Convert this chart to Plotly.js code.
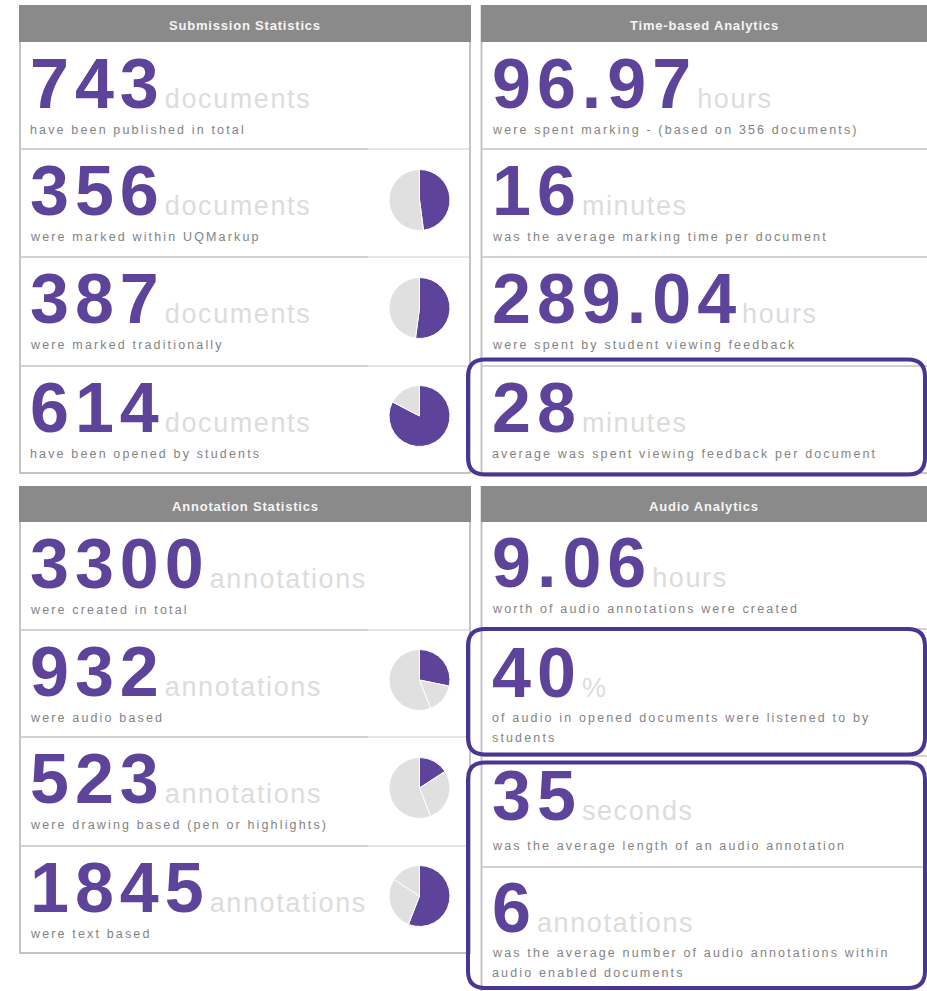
<!DOCTYPE html>
<html><head><meta charset="utf-8">
<script src="https://cdn.plot.ly/plotly-3.0.1.min.js"></script>
<style>html,body{margin:0;padding:0;background:#fff;overflow:hidden}</style>
</head><body><div id="chart" style="width:927px;height:991px"></div>
<script>
// ---------- DATA ----------
const panelTitles = ["Submission Statistics", "Time-based Analytics", "Annotation Statistics", "Audio Analytics"];

const submissionValues = ["743", "356", "387", "614"];
const submissionUnits = ["documents", "documents", "documents", "documents"];
const submissionCaptions = [["have been published in total"], ["were marked within UQMarkup"], ["were marked traditionally"], ["have been opened by students"]];

const timeValues = ["96.97", "16", "289.04", "28"];
const timeUnits = ["hours", "minutes", "hours", "minutes"];
const timeCaptions = [["were spent marking - (based on 356 documents)"], ["was the average marking time per document"], ["were spent by student viewing feedback"], ["average was spent viewing feedback per document"]];

const annotationValues = ["3300", "932", "523", "1845"];
const annotationUnits = ["annotations", "annotations", "annotations", "annotations"];
const annotationCaptions = [["were created in total"], ["were audio based"], ["were drawing based (pen or highlights)"], ["were text based"]];

const audioValues = ["9.06", "40", "35", "6"];
const audioUnits = ["hours", "%", "seconds", "annotations"];
const audioCaptions = [["worth of audio annotations were created"], ["of audio in opened documents were listened to by", "students"], ["was the average length of an audio annotation"], ["was the average number of audio annotations within", "audio enabled documents"]];

// pie slices (first slice = highlighted)
const pieMarkedUQ = [356, 387];
const pieMarkedTrad = [387, 356];
const pieOpened = [614, 129];
const pieAudio = [932, 523, 1845];
const pieDrawing = [523, 932, 1845];
const pieText = [1845, 932, 523];

// ---------- LAYOUT / STYLE ----------
const W = 927, H = 991;
const FONT = "Liberation Sans, Arial, sans-serif";
const PURPLE = "#5d4399";
const BOX = "#4a3593";
const PIEGRAY = "#e0e0e0";
const UNITC = "#dcdcdc";
const CAPC = "#838383";
const HEADBG = "#8a8a8a";
const BORDER = "#c4c4c4";
const SEP = "#d2d2d2";

const X = v => v / W;
const Y = v => 1 - v / H;

const leftX = 30, rightX = 492;
const topRows = [42, 149, 257, 366];
const botLeftRows = [522, 630, 737, 846];
const rowNumBase = t => t + 66.5;
const rowCapBase = t => t + 92.5;
const audioNumBase = [587, 697, 820, 932];
const audioCapBase = [613, 722, 850, 957];

const annotations = [];
const shapes = [];

function numAnn(x, base, value, unit) {
  annotations.push({
    xref: "paper", yref: "paper", x: X(x), y: Y(base + 14.8),
    xanchor: "left", yanchor: "bottom", showarrow: false, borderpad: 0, borderwidth: 0, align: "left",
    font: { family: FONT, size: 27, color: UNITC },
    text: '<span style="font-size:70px;font-weight:bold;letter-spacing:6px;color:' + PURPLE + '">' + value +
      '</span><span style="font-size:27px;letter-spacing:1.6px;color:' + UNITC + '">' + unit + '</span>'
  });
}
function capAnn(x, base, lines) {
  lines.forEach((t, i) => {
    annotations.push({
      xref: "paper", yref: "paper", x: X(x), y: Y(base + 20 * i + 2.7),
      xanchor: "left", yanchor: "bottom", showarrow: false, borderpad: 0, borderwidth: 0, align: "left",
      font: { family: FONT, size: 12.5, color: CAPC },
      text: '<span style="letter-spacing:2.15px">' + t + '</span>'
    });
  });
}
function header(x0, x1, y0, y1, title) {
  shapes.push({ type: "rect", xref: "paper", yref: "paper", x0: X(x0), x1: X(x1), y0: Y(y1), y1: Y(y0),
    fillcolor: HEADBG, line: { width: 0 }, layer: "below" });
  annotations.push({
    xref: "paper", yref: "paper", x: X((x0 + x1) / 2), y: Y((y0 + y1) / 2 + 2),
    xanchor: "center", yanchor: "middle", showarrow: false, borderpad: 0, borderwidth: 0,
    font: { family: FONT, size: 13, color: "#f5f5f5" },
    text: '<span style="font-weight:bold;letter-spacing:0.8px">' + title + '</span>'
  });
}
function hline(x0, x1, y, color, w) {
  shapes.push({ type: "line", xref: "paper", yref: "paper", x0: X(x0), x1: X(x1), y0: Y(y), y1: Y(y),
    line: { color: color, width: w }, layer: "below" });
}
function vline(x, y0, y1, color, w) {
  shapes.push({ type: "line", xref: "paper", yref: "paper", x0: X(x), x1: X(x), y0: Y(y0), y1: Y(y1),
    line: { color: color, width: w }, layer: "below" });
}
function rrect(x0, y0, x1, y1, r) {
  const p = [
    "M", X(x0 + r), Y(y0), "L", X(x1 - r), Y(y0),
    "Q", X(x1), Y(y0), X(x1), Y(y0 + r),
    "L", X(x1), Y(y1 - r),
    "Q", X(x1), Y(y1), X(x1 - r), Y(y1),
    "L", X(x0 + r), Y(y1),
    "Q", X(x0), Y(y1), X(x0), Y(y1 - r),
    "L", X(x0), Y(y0 + r),
    "Q", X(x0), Y(y0), X(x0 + r), Y(y0), "Z"];
  let s = "";
  for (let i = 0; i < p.length; i++) {
    const v = p[i];
    if (typeof v === "string") s += v;
    else { s += v.toFixed(6); s += (typeof p[i + 1] === "number") ? "," : " "; }
  }
  shapes.push({ type: "path", xref: "paper", yref: "paper", path: s, line: { color: BOX, width: 4 },
    fillcolor: "rgba(0,0,0,0)", layer: "above" });
}

// ---- panels: top-left ----
vline(20, 5, 474, BORDER, 2);
vline(470, 5, 474, BORDER, 2);
hline(19, 471, 473, BORDER, 2);
[149, 257, 366].forEach(y => { hline(21, 368, y, SEP, 2); hline(368, 469, y, "#e6e6e6", 2); });
header(19, 471, 5, 42, panelTitles[0]);

// ---- top-right ----
vline(481.5, 5, 474, BORDER, 2);
hline(481, 927, 473, BORDER, 2);
[149, 257, 366].forEach(y => hline(482, 927, y, SEP, 2));
header(481, 927, 5, 42, panelTitles[1]);

// ---- bottom-left ----
vline(20, 486, 954, BORDER, 2);
vline(470, 486, 954, BORDER, 2);
hline(19, 471, 953, BORDER, 2);
[630, 737, 846].forEach(y => { hline(21, 368, y, SEP, 2); hline(368, 469, y, "#e6e6e6", 2); });
header(19, 471, 486, 522, panelTitles[2]);

// ---- bottom-right ----
vline(481.5, 486, 991, BORDER, 2);
[629, 756, 867].forEach(y => hline(482, 927, y, SEP, 2));
header(481, 927, 486, 522, panelTitles[3]);

// ---- texts ----
for (let i = 0; i < 4; i++) {
  numAnn(leftX, rowNumBase(topRows[i]), submissionValues[i], submissionUnits[i]);
  capAnn(leftX, rowCapBase(topRows[i]), submissionCaptions[i]);
  numAnn(rightX, rowNumBase(topRows[i]), timeValues[i], timeUnits[i]);
  capAnn(rightX, rowCapBase(topRows[i]), timeCaptions[i]);
  numAnn(leftX, rowNumBase(botLeftRows[i]), annotationValues[i], annotationUnits[i]);
  capAnn(leftX, rowCapBase(botLeftRows[i]), annotationCaptions[i]);
  numAnn(rightX, audioNumBase[i], audioValues[i], audioUnits[i]);
  capAnn(rightX, audioCapBase[i], audioCaptions[i]);
}

// ---- highlight boxes ----
rrect(468, 359.5, 925, 474.5, 17);
rrect(468, 629, 925, 754.5, 17);
rrect(468, 762.5, 925, 988, 17);

// ---- pies ----
const PCX = 419.5, PR = 30.5;
function pie(values, colors, cy) {
  return {
    type: "pie", values: values, sort: false, direction: "clockwise", rotation: 0,
    marker: { colors: colors, line: { color: "#ffffff", width: 1 } },
    textinfo: "none", hoverinfo: "skip", showlegend: false,
    domain: { x: [X(PCX - PR), X(PCX + PR)], y: [Y(cy + PR), Y(cy - PR)] }
  };
}
const traces = [
  pie(pieMarkedUQ, [PURPLE, PIEGRAY], 200),
  pie(pieMarkedTrad, [PURPLE, PIEGRAY], 308),
  pie(pieOpened, [PURPLE, PIEGRAY], 416),
  pie(pieAudio, [PURPLE, PIEGRAY, PIEGRAY], 680),
  pie(pieDrawing, [PURPLE, PIEGRAY, PIEGRAY], 788),
  pie(pieText, [PURPLE, PIEGRAY, PIEGRAY], 896)
];

const layout = {
  width: W, height: H, autosize: false,
  margin: { l: 0, r: 0, t: 0, b: 0, pad: 0 },
  paper_bgcolor: "#ffffff", plot_bgcolor: "#ffffff",
  showlegend: false,
  font: { family: FONT },
  shapes: shapes, annotations: annotations
};
Plotly.newPlot("chart", traces, layout, { displayModeBar: false, staticPlot: true });
</script>
</body></html>
